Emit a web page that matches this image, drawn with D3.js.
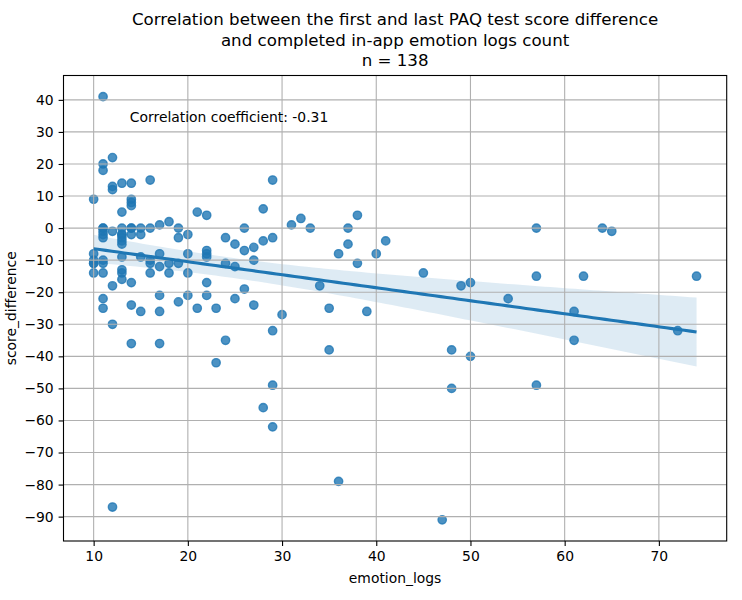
<!DOCTYPE html>
<html><head><meta charset="utf-8">
<script src="https://cdn.jsdelivr.net/npm/d3@7"></script>
<style>
body{margin:0;background:#fff}
svg{display:block}
text{font-family:"DejaVu Sans",sans-serif;fill:#000}
</style>
</head><body><svg id="c" width="742" height="600"></svg>
<script>
// ---- chart text ----
const titleLines = [
  "Correlation between the first and last PAQ test score difference",
  "and completed in-app emotion logs count",
  "n = 138"
];
const xLabel = "emotion_logs";
const yLabel = "score_difference";
const annotation = "Correlation coefficient: -0.31";

// ---- ticks ----
const xTicks = [10, 20, 30, 40, 50, 60, 70];
const yTicks = [40, 30, 20, 10, 0, -10, -20, -30, -40, -50, -60, -70, -80, -90];

// ---- data (x = emotion_logs, y = score_difference) ----
const emotionLogs = [
  10,10,10,10,10,10,
  11,11,11,11,11,11,11,11,11,11,11,11,11,
  12,12,12,12,12,12,12,
  13,13,13,13,13,13,13,13,13,13,13,13,
  14,14,14,14,14,14,14,14,14,14,
  15,15,15,15,
  16,16,16,16,16,
  17,17,17,17,17,17,
  18,18,18,
  19,19,19,19,
  20,20,20,20,
  21,21,
  22,22,22,22,22,22,
  23,23,
  24,24,24,
  25,25,25,
  26,26,26,
  27,27,27,
  28,28,28,
  29,29,29,29,29,
  30,31,32,33,34,35,35,36,36,37,37,38,38,39,40,41,
  45,47,48,48,49,50,50,54,57,57,57,61,61,62,64,65,72,74
];
const scoreDifference = [
  9,-8,-10,-11,-11,-14,
  41,20,18,0,0,-1,-2,-3,-10,-11,-14,-22,-25,
  22,13,12,-1,-18,-30,-87,
  14,5,0,-2,-2,-3,-4,-5,-9,-13,-14,-16,
  14,9,8,7,0,0,-2,-17,-24,-36,
  0,-2,-9,-26,
  15,0,-10,-11,-14,
  1,-8,-12,-21,-26,-36,
  2,-11,-14,
  0,-3,-11,-23,
  -2,-8,-14,-21,
  5,-25,
  4,-7,-8,-9,-17,-21,
  -25,-42,
  -3,-11,-35,
  -5,-12,-22,
  0,-7,-19,
  -6,-10,-24,
  6,-4,-56,
  15,-3,-32,-49,-62,
  -27,1,3,0,-18,-25,-38,-8,-79,0,-5,4,-11,-26,-8,-4,
  -14,-91,-38,-50,-18,-17,-40,-22,0,-15,-49,-26,-35,-15,0,-1,-32,-15
];

// ---- layout ----
const M = {left: 63.5, right: 726.7, top: 75.5, bottom: 541};
const BLUE = "#1f77b4";
const svg = d3.select("#c");

const xExt = d3.extent(emotionLogs);
const yExt = d3.extent(scoreDifference);
const xPad = (xExt[1] - xExt[0]) * 0.05;
const yPad = (yExt[1] - yExt[0]) * 0.05;
const x = d3.scaleLinear().domain([xExt[0] - xPad, xExt[1] + xPad]).range([M.left, M.right]);
const y = d3.scaleLinear().domain([yExt[0] - yPad, yExt[1] + yPad]).range([M.bottom, M.top]);

// ---- regression + 95% CI ----
const pts = emotionLogs.map((v, i) => [v, scoreDifference[i]]);
const n = pts.length;
const xm = d3.mean(emotionLogs), ym = d3.mean(scoreDifference);
const sxx = d3.sum(emotionLogs, v => (v - xm) ** 2);
const sxy = d3.sum(pts, p => (p[0] - xm) * (p[1] - ym));
const slope = sxy / sxx, intercept = ym - slope * xm;
const sse = d3.sum(pts, p => (p[1] - (intercept + slope * p[0])) ** 2);
const se = Math.sqrt(sse / (n - 2));
const tval = 1.9776;
const grid = d3.range(100).map(i => xExt[0] + (xExt[1] - xExt[0]) * i / 99);
const fit = grid.map(g => {
  const yh = intercept + slope * g;
  const h = tval * se * Math.sqrt(1 / n + (g - xm) ** 2 / sxx);
  return {x: g, y: yh, lo: yh - h, hi: yh + h};
});

// CI band
svg.append("path")
  .datum(fit)
  .attr("d", d3.area().x(d => x(d.x)).y0(d => y(d.lo)).y1(d => y(d.hi)))
  .attr("fill", BLUE).attr("fill-opacity", 0.15);

// scatter
svg.append("g").selectAll("circle").data(pts).join("circle")
  .attr("cx", d => x(d[0])).attr("cy", d => y(d[1]))
  .attr("r", 4.17)
  .attr("fill", BLUE).attr("fill-opacity", 0.8)
  .attr("stroke", BLUE).attr("stroke-opacity", 0.8).attr("stroke-width", 1.39);

// grid
const gg = svg.append("g").attr("stroke", "#b0b0b0").attr("stroke-width", 1.1);
xTicks.forEach(t => gg.append("line").attr("x1", x(t)).attr("x2", x(t)).attr("y1", M.top).attr("y2", M.bottom));
yTicks.forEach(t => gg.append("line").attr("y1", y(t)).attr("y2", y(t)).attr("x1", M.left).attr("x2", M.right));

// regression line
svg.append("path").datum(fit)
  .attr("d", d3.line().x(d => x(d.x)).y(d => y(d.y)))
  .attr("fill", "none").attr("stroke", BLUE).attr("stroke-width", 3.1);

// spines
svg.append("rect").attr("x", M.left).attr("y", M.top)
  .attr("width", M.right - M.left).attr("height", M.bottom - M.top)
  .attr("fill", "none").attr("stroke", "#000").attr("stroke-width", 1.1);

const fmt = d => d < 0 ? "\u2212" + Math.abs(d) : String(d);
const xa = svg.append("g").attr("transform", `translate(0,${M.bottom})`)
  .call(d3.axisBottom(x).tickValues(xTicks).tickFormat(fmt).tickSize(4.9).tickPadding(4.9));
const ya = svg.append("g").attr("transform", `translate(${M.left},0)`)
  .call(d3.axisLeft(y).tickValues(yTicks).tickFormat(fmt).tickSize(4.9).tickPadding(4.9));
[xa, ya].forEach(a => {
  a.select(".domain").remove();
  a.selectAll("line").attr("stroke", "#000").attr("stroke-width", 1.1);
  a.selectAll("text").attr("font-family", "DejaVu Sans").attr("font-size", 13.9).attr("fill", "#000");
});

// labels
svg.append("text").attr("x", (M.left + M.right) / 2).attr("y", 583)
  .attr("text-anchor", "middle").attr("font-size", 13.9).text(xLabel);
svg.append("text").attr("transform", `translate(16,${(M.top + M.bottom) / 2}) rotate(-90)`)
  .attr("text-anchor", "middle").attr("font-size", 13.9).text(yLabel);

// annotation
svg.append("text").attr("x", M.left + 0.1 * (M.right - M.left))
  .attr("y", M.bottom - 0.9 * (M.bottom - M.top))
  .attr("font-size", 13.9).text(annotation);

// title
titleLines.forEach((t, i) => {
  svg.append("text").attr("x", (M.left + M.right) / 2).attr("y", 25 + i * 20.5)
    .attr("text-anchor", "middle").attr("font-size", 16.67).text(t);
});
</script>
</body></html>
